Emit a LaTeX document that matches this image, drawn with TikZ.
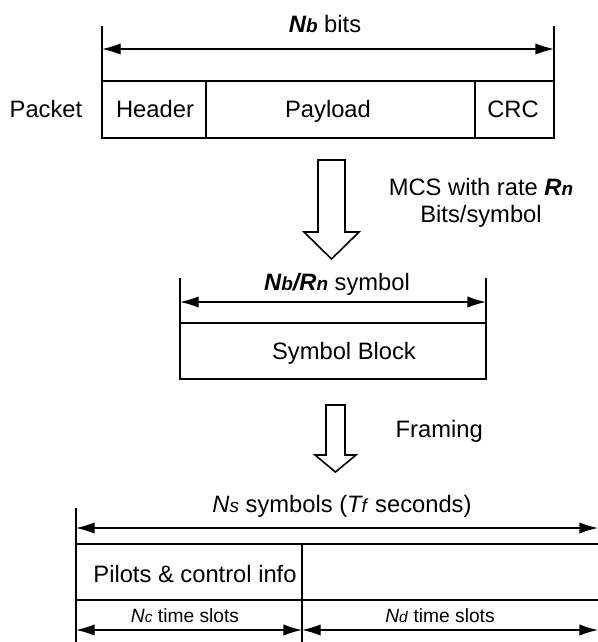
\documentclass[tikz,border=0pt]{standalone}
\usepackage{fontspec}
\setmainfont{Liberation Sans}
\usepackage{tikz}
\usetikzlibrary{arrows.meta,positioning}
\newcommand{\idx}[3][14.2]{#2{\fontsize{#1}{#1}\selectfont #3}}

\begin{document}
\begin{tikzpicture}[x=0.75pt,y=-0.75pt,line width=1pt,
		dim/.style={{Latex[length=14pt,width=8.5pt]}-{Latex[length=14pt,width=8.5pt]}},
		lbl/.style={font=\fontsize{17.8}{20}\selectfont,inner sep=0pt,anchor=base},
		slbl/.style={font=\fontsize{14.4}{17}\selectfont,inner sep=0pt,anchor=base},
		blk/.style={line width=1.2pt,fill=white,line join=miter}]
		\useasboundingbox (0,0) rectangle (598,642);
		% packet
		\draw (102,81) rectangle (554,138);
		\foreach \x in {206,475}
		\draw (\x,81) -- (\x,138);
		\foreach \x in {102,554}
		\draw (\x,26) -- (\x,81);
		\coordinate (nbL) at (102,49);
		\coordinate (nbR) at (554,49);
		\draw[dim] (nbL) -- (nbR);
		\node[lbl] (nbits) at (325,33) {\textbf{\textit{\idx{N}{b}}} bits};
		\node[lbl] (packet) at (46,117) {Packet};
		\node[lbl] (header) at (155,117) {Header};
		\node[lbl] (payload) at (328,117) {Payload};
		\node[lbl] (crc) at (513,117) {CRC};
		% coding
		\draw[blk] (318,160) -- (345,160) -- (345,232) -- (359,232) -- (331.5,259) -- (304,232) -- (318,232) -- cycle;
		\node[lbl] (mcs) at (481,195) {MCS with rate \textbf{\textit{\idx{R}{n}}}};
		\node[lbl] (bps) at (481,222) {Bits/symbol};
		% symbol block
		\draw (180,323) rectangle (486,379);
		\foreach \x in {180,486}
		\draw (\x,278) -- (\x,323);
		\coordinate (sbL) at (180,302);
		\coordinate (sbR) at (486,302);
		\draw[dim] (sbL) -- (sbR);
		\node[lbl] (nbrn) at (337,290) {\textbf{\textit{\idx{N}{b}/\idx{R}{n}}} symbol};
		\node[lbl] (symblock) at (344,359) {Symbol Block};
		% framing
		\draw[blk] (326,405) -- (345,405) -- (345,455) -- (356,455) -- (335.5,472) -- (315,455) -- (326,455) -- cycle;
		\node[lbl,anchor=base west] (framing) at (395,437) {Framing};
		% frame
		\draw (76,508) -- (76,650);
		\draw (302,544) -- (302,650);
		\foreach \y in {544,600}
		\draw (76,\y) -- (610,\y);
		\coordinate (fL) at (76,528);
		\coordinate (fR) at (598,528);
		\draw[dim] (fL) -- (fR);
		\coordinate (cL) at (76,630);
		\coordinate (cR) at (302,630);
		\coordinate (dR) at (598,630);
		\draw[dim] (cL) -- (cR);
		\draw[dim] (cR) -- (dR);
		\node[lbl] (nsym) at (342,512) {\textit{\idx{N}{s}} symbols (\textit{\idx{T}{f}} seconds)};
		\node[lbl] (pilots) at (195,582) {Pilots \& control info};
		\node[slbl] (nc) at (185,622) {\textit{\idx[11.6]{N}{c}} time slots};
		\node[slbl] (nd) at (440,622) {\textit{\idx[11.6]{N}{d}} time slots};
	\end{tikzpicture}
\end{document}
